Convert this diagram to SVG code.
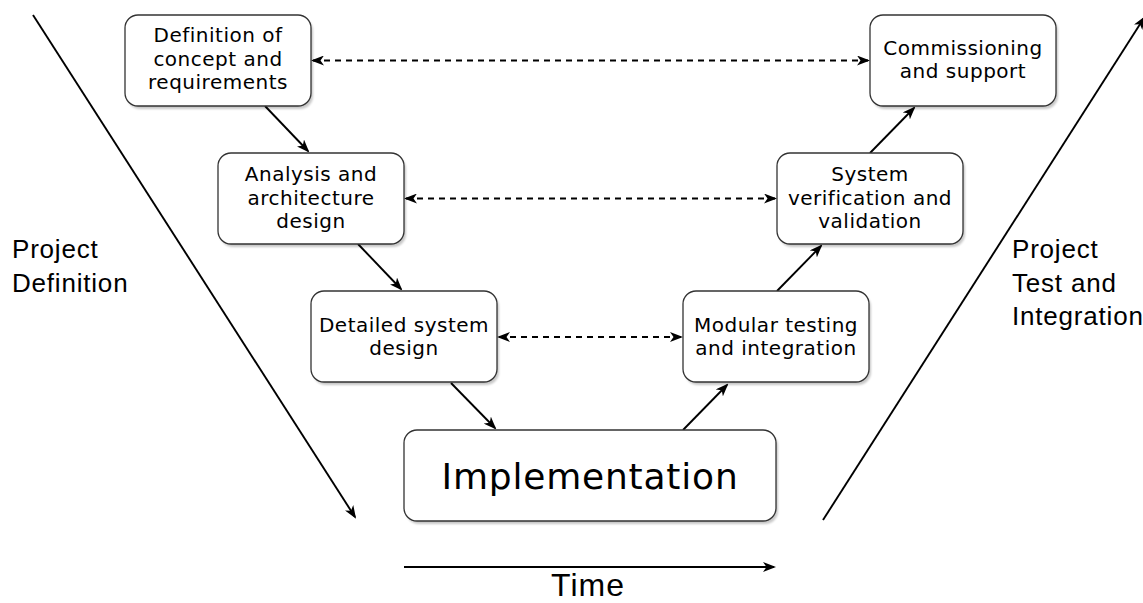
<svg xmlns="http://www.w3.org/2000/svg" width="1143" height="603" viewBox="0 0 1143 603">
  <defs>
    <style>
      .box { fill: #ffffff; stroke: #333333; stroke-width: 1.3; }
      .shadow { fill: #000000; opacity: 0.22; filter: url(#soft); }
      .lbl { font-family: "DejaVu Sans", Verdana, sans-serif; font-size: 20px; letter-spacing: 0.5px; fill: #000000; text-anchor: middle; }
      .big { font-family: "DejaVu Sans", Verdana, sans-serif; font-size: 36px; letter-spacing: 0.8px; fill: #000000; text-anchor: middle; }
      .side { font-family: "Liberation Sans", Arial, sans-serif; font-size: 26px; letter-spacing: 0.8px; fill: #000000; }
      .time { font-family: "Liberation Sans", Arial, sans-serif; font-size: 32px; letter-spacing: 1px; fill: #000000; text-anchor: middle; }
      .edge { stroke: #000000; stroke-width: 1.9; fill: none; marker-end: url(#arrow); }
      .dash { stroke: #000000; stroke-width: 1.9; fill: none; stroke-dasharray: 6 5; marker-start: url(#arrow); marker-end: url(#arrow); }
    </style>
    <filter id="soft" x="-10%" y="-10%" width="120%" height="130%">
      <feGaussianBlur stdDeviation="1.2"/>
    </filter>
    <marker id="arrow" viewBox="0 0 13 10" refX="11" refY="5" markerWidth="13" markerHeight="10" markerUnits="userSpaceOnUse" orient="auto-start-reverse">
      <path d="M0,0 L13,5 L0,10 L3.5,5 Z" fill="#000000"/>
    </marker>
  </defs>

  <rect width="1143" height="603" fill="#ffffff"/>

  <!-- connectors -->
  <g id="connectors">
    <line class="edge" x1="33" y1="15" x2="355" y2="517"/>
    <line class="edge" x1="823" y1="520" x2="1144" y2="18"/>
    <line class="edge" x1="404" y1="567" x2="774" y2="567"/>

    <line class="edge" x1="265" y1="106" x2="308" y2="151"/>
    <line class="edge" x1="358" y1="244" x2="401" y2="289"/>
    <line class="edge" x1="451" y1="383" x2="495" y2="428"/>
    <line class="edge" x1="683" y1="430" x2="727" y2="385"/>
    <line class="edge" x1="777" y1="291" x2="821" y2="246"/>
    <line class="edge" x1="870" y1="153" x2="914" y2="108"/>

    <line class="dash" x1="313" y1="60.5" x2="868" y2="60.5"/>
    <line class="dash" x1="406" y1="198.5" x2="775" y2="198.5"/>
    <line class="dash" x1="499" y1="337" x2="681" y2="337"/>
  </g>

  <g id="n-concept">
    <rect class="shadow" x="127" y="18" width="186" height="91" rx="13"/>
    <rect class="box" x="125" y="15" width="186" height="91" rx="13"/>
    <text class="lbl" x="218" y="42">Definition of</text>
    <text class="lbl" x="218" y="65.5">concept and</text>
    <text class="lbl" x="218" y="89">requirements</text>
  </g>

  <g id="n-analysis">
    <rect class="shadow" x="220" y="156" width="186" height="91" rx="13"/>
    <rect class="box" x="218" y="153" width="186" height="91" rx="13"/>
    <text class="lbl" x="311" y="181">Analysis and</text>
    <text class="lbl" x="311" y="204.5">architecture</text>
    <text class="lbl" x="311" y="228">design</text>
  </g>

  <g id="n-detailed">
    <rect class="shadow" x="313" y="294" width="186" height="91" rx="13"/>
    <rect class="box" x="311" y="291" width="186" height="91" rx="13"/>
    <text class="lbl" x="404" y="331.5">Detailed system</text>
    <text class="lbl" x="404" y="355">design</text>
  </g>

  <g id="n-implementation">
    <rect class="shadow" x="406" y="433" width="372" height="91" rx="13"/>
    <rect class="box" x="404" y="430" width="372" height="91" rx="13"/>
    <text class="big" x="590" y="489">Implementation</text>
  </g>

  <g id="n-modular">
    <rect class="shadow" x="685" y="294" width="186" height="91" rx="13"/>
    <rect class="box" x="683" y="291" width="186" height="91" rx="13"/>
    <text class="lbl" x="776" y="331.5">Modular testing</text>
    <text class="lbl" x="776" y="355">and integration</text>
  </g>

  <g id="n-verification">
    <rect class="shadow" x="779" y="156" width="186" height="91" rx="13"/>
    <rect class="box" x="777" y="153" width="186" height="91" rx="13"/>
    <text class="lbl" x="870" y="181">System</text>
    <text class="lbl" x="870" y="204.5">verification and</text>
    <text class="lbl" x="870" y="228">validation</text>
  </g>

  <g id="n-commissioning">
    <rect class="shadow" x="872" y="18" width="186" height="91" rx="13"/>
    <rect class="box" x="870" y="15" width="186" height="91" rx="13"/>
    <text class="lbl" x="963" y="54.5">Commissioning</text>
    <text class="lbl" x="963" y="78">and support</text>
  </g>

  <g id="label-definition">
    <text class="side" x="12" y="258">Project</text>
    <text class="side" x="12" y="292">Definition</text>
  </g>

  <g id="label-test">
    <text class="side" x="1012" y="258">Project</text>
    <text class="side" x="1012" y="292">Test and</text>
    <text class="side" x="1012" y="325">Integration</text>
  </g>

  <g id="label-time">
    <text class="time" x="588" y="596">Time</text>
  </g>
</svg>
